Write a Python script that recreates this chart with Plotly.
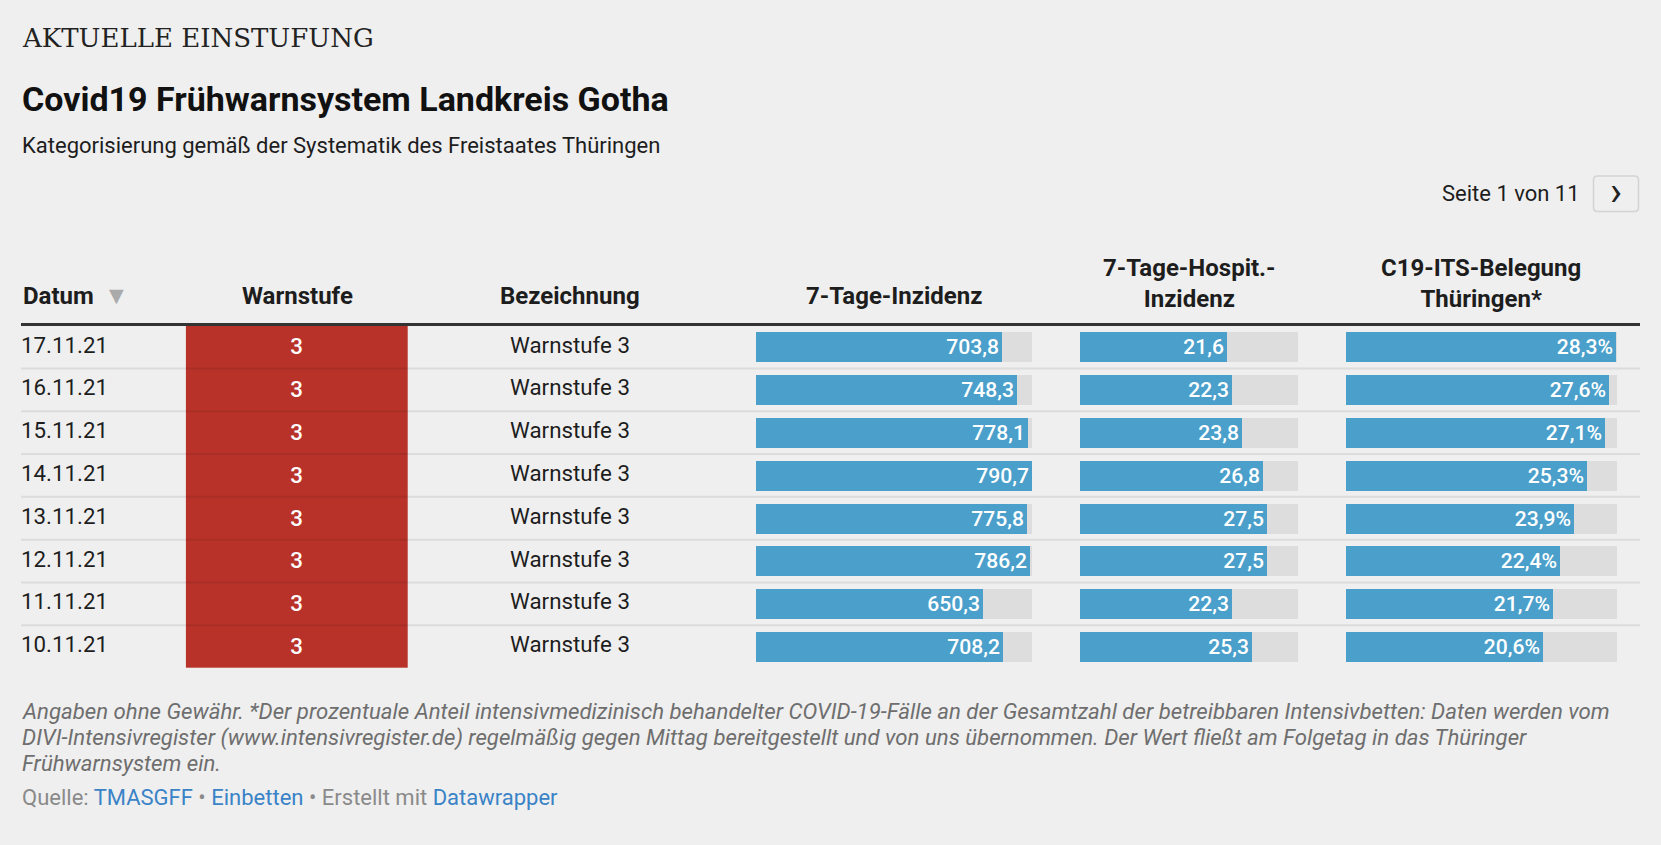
import plotly.graph_objects as go

# canvas in pixels
W, H = 1661, 845

# table data (page 1 of 11)
dates = ["17.11.21", "16.11.21", "15.11.21", "14.11.21",
         "13.11.21", "12.11.21", "11.11.21", "10.11.21"]
warnstufe = [3, 3, 3, 3, 3, 3, 3, 3]
bezeichnung = ["Warnstufe 3", "Warnstufe 3", "Warnstufe 3", "Warnstufe 3",
               "Warnstufe 3", "Warnstufe 3", "Warnstufe 3", "Warnstufe 3"]
inzidenz = [703.8, 748.3, 778.1, 790.7, 775.8, 786.2, 650.3, 708.2]
hospit = [21.6, 22.3, 23.8, 26.8, 27.5, 27.5, 22.3, 25.3]
its = [28.3, 27.6, 27.1, 25.3, 23.9, 22.4, 21.7, 20.6]

# column scale maxima (over all pages)
inzidenz_max = 790.7
hospit_max = 32.0
its_max = 28.4

headers = ["Datum", "Warnstufe", "Bezeichnung", "7-Tage-Inzidenz",
           "7-Tage-Hospit.-<br>Inzidenz", "C19-ITS-Belegung<br>Thüringen*"]

BG = "#efefef"
TEXT = "#1d1d1d"
BLUE = "#4b9fcb"
BAR_BG = "#dddddd"
RED = "#b83229"
LINK = "#3a83c7"
FONT = "Roboto"
BODY = 22.3


def px(x):
    return x / W


def py(y):
    return 1 - y / H


def de(v, suffix=""):
    return f"{v:.1f}".replace(".", ",") + suffix


table_top, table_bottom = 325.7, 668.0

fig = go.Figure()

# Datum column
fig.add_trace(go.Scatter(x=[21] * len(dates), y=dates, mode="text",
                         text=dates, textposition="middle right",
                         textfont=dict(family=FONT, size=BODY, color=TEXT),
                         xaxis="x", yaxis="y", hoverinfo="skip"))

# Warnstufe column (coloured cell)
fig.add_trace(go.Heatmap(z=[[v] for v in warnstufe], x=["Warnstufe"], y=dates,
                         xaxis="x2", yaxis="y", zmin=1, zmax=3,
                         colorscale=[[0, "#4a9a4e"], [0.5, "#f0b323"], [1, RED]],
                         showscale=False, texttemplate="%{z}",
                         textfont=dict(family=FONT, size=BODY, color="white",
                                       weight=500),
                         hoverinfo="skip"))

# Bezeichnung column
fig.add_trace(go.Scatter(x=[570] * len(dates), y=dates, mode="text",
                         text=bezeichnung, textposition="middle center",
                         textfont=dict(family=FONT, size=BODY, color=TEXT),
                         xaxis="x", yaxis="y", hoverinfo="skip"))

# bar columns
bar_cols = [
    ("x3", inzidenz, inzidenz_max, ""),
    ("x4", hospit, hospit_max, ""),
    ("x5", its, its_max, "%"),
]
for axis, values, vmax, suffix in bar_cols:
    fig.add_trace(go.Bar(x=[vmax] * len(values), y=dates, orientation="h",
                         width=0.7, marker=dict(color=BAR_BG, line_width=0),
                         xaxis=axis, yaxis="y", hoverinfo="skip"))
    fig.add_trace(go.Bar(x=values, y=dates, orientation="h", width=0.7,
                         marker=dict(color=BLUE, line_width=0),
                         text=[de(v, suffix) for v in values],
                         textposition="inside", insidetextanchor="end",
                         textangle=0,
                         textfont=dict(family=FONT, size=22, color="white",
                                       weight=500),
                         xaxis=axis, yaxis="y", hoverinfo="skip"))

hidden = dict(visible=False, showgrid=False, zeroline=False, fixedrange=True)
fig.update_layout(
    width=W, height=H, margin=dict(l=0, r=0, t=0, b=0),
    paper_bgcolor=BG, plot_bgcolor=BG, showlegend=False,
    barmode="overlay", bargap=0,
    yaxis=dict(type="category", categoryorder="array", categoryarray=dates,
               range=[len(dates) - 0.5, -0.5],
               domain=[py(table_bottom), py(table_top)], **hidden),
    xaxis=dict(range=[0, W], domain=[0, 1], anchor="y", **hidden),
    xaxis2=dict(range=[-0.5, 0.5], domain=[px(185.7), px(408)], anchor="y",
                **hidden),
    xaxis3=dict(range=[0, inzidenz_max], domain=[px(756), px(1032)],
                anchor="y", **hidden),
    xaxis4=dict(range=[0, hospit_max], domain=[px(1080), px(1298)],
                anchor="y", **hidden),
    xaxis5=dict(range=[0, its_max], domain=[px(1346), px(1617)],
                anchor="y", **hidden),
)

# header rule and row separators
fig.add_shape(type="line", xref="paper", yref="paper",
              x0=px(21), x1=px(1640), y0=py(324.5), y1=py(324.5),
              line=dict(color="#333333", width=3))
for i in range(len(dates) - 1):
    fig.add_shape(type="line", xref="paper", yref="y",
                  x0=px(21), x1=px(1640), y0=i + 0.5, y1=i + 0.5,
                  line=dict(color="rgba(0,0,0,0.08)", width=2))

# pagination button
bx0, bx1, by0, by1, r = 1593.5, 1638.5, 176, 211.5, 4
path = (f"M {px(bx0 + r)},{py(by0)} L {px(bx1 - r)},{py(by0)} "
        f"Q {px(bx1)},{py(by0)} {px(bx1)},{py(by0 + r)} "
        f"L {px(bx1)},{py(by1 - r)} Q {px(bx1)},{py(by1)} {px(bx1 - r)},{py(by1)} "
        f"L {px(bx0 + r)},{py(by1)} Q {px(bx0)},{py(by1)} {px(bx0)},{py(by1 - r)} "
        f"L {px(bx0)},{py(by0 + r)} Q {px(bx0)},{py(by0)} {px(bx0 + r)},{py(by0)} Z")
fig.add_shape(type="path", xref="paper", yref="paper", path=path,
              line=dict(color="#d3d3d3", width=1.5), fillcolor=BG)


def ann(text, x, y, size, color=TEXT, xanchor="left", family=FONT,
        weight="normal", style="normal"):
    fig.add_annotation(text=text, x=px(x), y=py(y), xref="paper", yref="paper",
                       xanchor=xanchor, yanchor="middle", showarrow=False,
                       align="center" if xanchor == "center" else "left",
                       font=dict(family=family, size=size, color=color,
                                 weight=weight, style=style))


# titles
ann("AKTUELLE EINSTUFUNG", 20, 38.5, 26, color="#222222",
    family="DejaVu Serif")
ann("Covid19 Frühwarnsystem Landkreis Gotha", 20, 99, 34, color="#111111",
    weight="bold")
ann("Kategorisierung gemäß der Systematik des Freistaates Thüringen", 20,
    146, 22)

ann("Seite 1 von 11", 1582, 193.5, 22, xanchor="right")
ann("›", 1616, 191.5, 40, xanchor="center", color="#222222")

# column headers
header_x = [21, 297, 570, 894, 1189, 1481]
for i, (h, hx) in enumerate(zip(headers, header_x)):
    two_lines = "<br>" in h
    ann(h, hx, 283 if two_lines else 296.5, 24,
        xanchor="left" if i == 0 else "center", weight="bold")
ann("▼", 117, 295, 25, color="#aaaaaa", xanchor="center")

# notes
notes = [
    "Angaben ohne Gewähr. *Der prozentuale Anteil intensivmedizinisch "
    "behandelter COVID-19-Fälle an der Gesamtzahl der betreibbaren "
    "Intensivbetten: Daten werden vom",
    "DIVI-Intensivregister (www.intensivregister.de) regelmäßig gegen Mittag "
    "bereitgestellt und von uns übernommen. Der Wert fließt am Folgetag in "
    "das Thüringer",
    "Frühwarnsystem ein.",
]
for line, ly in zip(notes, [711, 737, 763]):
    ann(line, 20, ly, 22.2, color="#6e6e6e", style="italic")

source = (f"Quelle: <span style='color:{LINK}'>TMASGFF</span> • "
          f"<span style='color:{LINK}'>Einbetten</span> • Erstellt mit "
          f"<span style='color:{LINK}'>Datawrapper</span>")
ann(source, 20, 797, 22, color="#8a8a8a")

fig.write_html("out.html", config={"displayModeBar": False},
               post_script="document.body.style.margin='0';"
                           f"document.body.style.background='{BG}';")
